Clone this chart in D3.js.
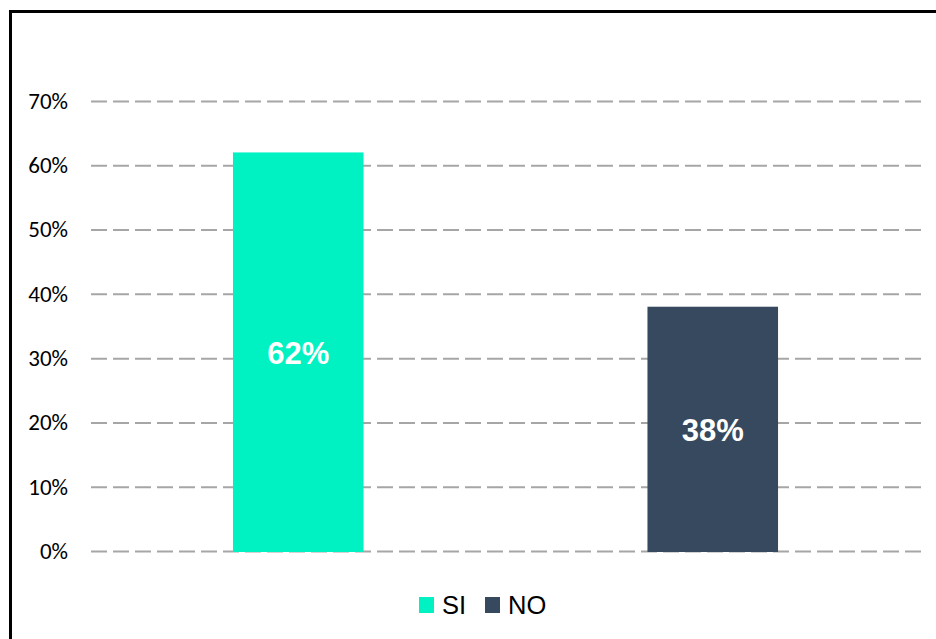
<!DOCTYPE html>
<html>
<head>
<meta charset="utf-8">
<script src="https://cdn.jsdelivr.net/npm/d3@7"></script>
<style>
  body { margin: 0; background: #fff; }
  svg { display: block; }
</style>
</head>
<body>
<div id="chart"></div>
<script>
const width = 936;
const height = 639;

// data
const categories = ["SI", "NO"];
const values = [0.62, 0.38];
const colors = ["#00F2C3", "#36495E"];
const yTicks = [0, 0.1, 0.2, 0.3, 0.4, 0.5, 0.6, 0.7];

const svg = d3.select("#chart")
    .append("svg")
    .attr("width", width)
    .attr("height", height);

// outer frame (right/bottom run off the page)
svg.append("rect")
    .attr("x", 10.5)
    .attr("y", 11.5)
    .attr("width", width + 20)
    .attr("height", height + 20)
    .attr("fill", "none")
    .attr("stroke", "#000")
    .attr("stroke-width", 3);

const x = d3.scaleBand()
    .domain(categories)
    .range([91, 920])
    .paddingInner(0.685)
    .paddingOuter(0.3425);

const y = d3.scaleLinear()
    .domain([0, 0.7])
    .range([551, 101]);

// gridlines + tick labels via axis
const yAxis = svg.append("g")
    .attr("transform", "translate(91,0)")
    .call(d3.axisLeft(y)
        .tickValues(yTicks)
        .tickSize(-(921 - 91))
        .tickPadding(23)
        .tickFormat(d3.format(".0%")));

yAxis.select(".domain").remove();
yAxis.selectAll(".tick line")
    .attr("stroke", "#A6A6A6")
    .attr("stroke-width", 2)
    .attr("stroke-dasharray", "16,6");
yAxis.selectAll(".tick text")
    .attr("fill", "#000")
    .style("font-family", "Carlito, Lato, sans-serif")
    .style("font-weight", "normal")
    .style("font-size", "23px");

// bars
svg.selectAll("rect.bar")
    .data(categories)
    .enter().append("rect")
    .attr("class", "bar")
    .attr("x", d => x(d))
    .attr("y", (d, i) => y(values[i]))
    .attr("width", x.bandwidth())
    .attr("height", (d, i) => y(0) - y(values[i]) + 1)
    .attr("fill", (d, i) => colors[i]);

// value labels
svg.selectAll("text.val")
    .data(categories)
    .enter().append("text")
    .attr("class", "val")
    .attr("x", d => x(d) + x.bandwidth() / 2)
    .attr("y", (d, i) => (y(values[i]) + y(0)) / 2 + 1.5)
    .attr("text-anchor", "middle")
    .attr("dominant-baseline", "central")
    .attr("fill", "#fff")
    .style("font-family", "Liberation Sans, Arial, sans-serif")
    .style("font-weight", "bold")
    .style("font-size", "31px")
    .text((d, i) => Math.round(values[i] * 100) + "%");

// legend
const legendX = [419, 485];
const legend = svg.selectAll("g.legend")
    .data(categories)
    .enter().append("g")
    .attr("class", "legend")
    .attr("transform", (d, i) => `translate(${legendX[i]},597)`);

legend.append("rect")
    .attr("width", 15)
    .attr("height", 16)
    .attr("fill", (d, i) => colors[i]);

legend.append("text")
    .attr("x", 23)
    .attr("y", 16.5)
    .style("font-family", "Liberation Sans, Arial, sans-serif")
    .style("font-size", "25.5px")
    .attr("fill", "#000")
    .text(d => d);
</script>
</body>
</html>
